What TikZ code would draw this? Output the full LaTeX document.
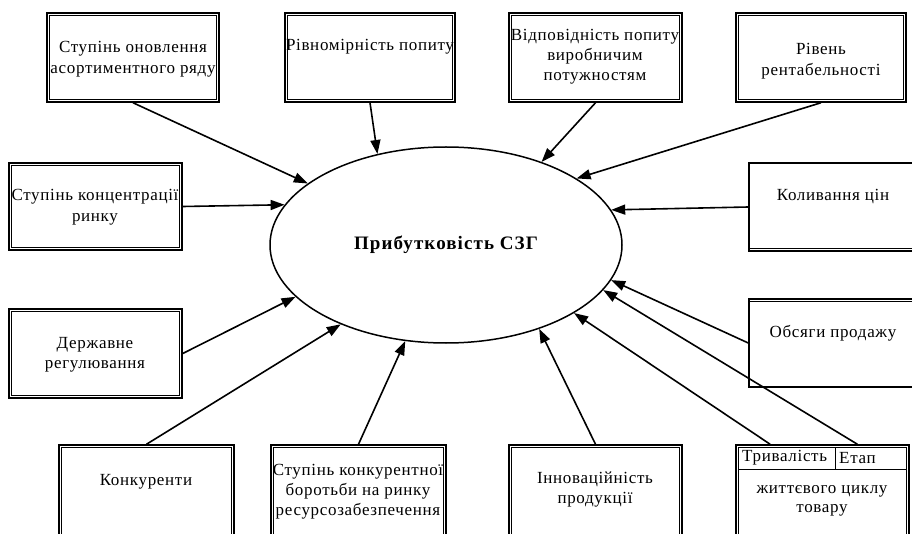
\documentclass[tikz,border=0pt]{standalone}
\usepackage{fontspec}
\setmainfont{Liberation Serif}[LetterSpace=4]
\newfontfamily\centrefont{Liberation Serif}[LetterSpace=5.7]
\usetikzlibrary{arrows.meta,shapes.geometric,calc}
\tikzset{
  framebox/.style={draw, line width=1.5pt, inner sep=0pt},
  innerframe/.style={draw, line width=0.8pt},
  txt/.style={align=center, inner sep=0pt, font=\fontsize{17}{21}\selectfont},
  cell/.style={anchor=west, inner sep=0pt, font=\fontsize{17}{21}\selectfont},
  arr/.style={line width=1.6pt, -{Triangle[length=14pt,width=10pt]}},
  rule/.style={line width=1pt}
}
\begin{document}
\begin{tikzpicture}[x=1pt,y=-1pt]
\useasboundingbox (0,0) rectangle (912,534);
\clip (0,0) rectangle (912,534);
\fill[white] (0,0) rectangle (912,534);
% centre
\node[draw, ellipse, line width=1.5pt, minimum width=352pt, minimum height=196pt, inner sep=0pt,
      font=\centrefont\bfseries\fontsize{19}{21}\selectfont] (E) at (446,245) {Прибутковість СЗГ};
% boxes
\node[framebox, minimum width=172pt, minimum height=89pt] (b1) at (133,57.5) {};
\node[framebox, minimum width=170pt, minimum height=89pt] (b2) at (370,57.5) {};
\node[framebox, minimum width=173pt, minimum height=89pt] (b3) at (595.5,57.5) {};
\node[framebox, minimum width=170pt, minimum height=89pt] (b4) at (821,57.5) {};
\node[framebox, minimum width=173pt, minimum height=87pt] (b5) at (95.5,206.5) {};
\node[framebox, minimum width=180pt, minimum height=88pt] (b6) at (839,207) {};
\node[framebox, minimum width=173pt, minimum height=89pt] (b7) at (95.5,353.5) {};
\node[framebox, minimum width=180pt, minimum height=88pt] (b8) at (839,343) {};
\node[framebox, minimum width=175pt, minimum height=100pt] (b9) at (146.5,495) {};
\node[framebox, minimum width=175pt, minimum height=100pt] (b10) at (358.5,495) {};
\node[framebox, minimum width=173pt, minimum height=100pt] (b11) at (595.5,495) {};
\node[framebox, minimum width=173pt, minimum height=100pt] (b12) at (822.5,495) {};
\foreach \n in {b1,b2,b3,b4,b5,b7,b9,b10,b11,b12}{
  \draw[innerframe] ($(\n.north west)+(3.4,3.4)$) rectangle ($(\n.south east)+(-3.4,-3.4)$);
}
\draw[innerframe] ($(b6.south west)+(0,-3.4)$) -- ($(b6.south east)+(0,-3.4)$);
\draw[innerframe] ($(b8.north west)+(0,3.4)$) -- ($(b8.north east)+(0,3.4)$);
\coordinate (h1) at ($(b12.north west)+(3.4,25)$);
\coordinate (h2) at ($(b12.north east)+(-3.4,25)$);
\coordinate (v1) at ($(b12.north west)+(100,3.4)$);
\coordinate (v2) at ($(b12.north west)+(100,25)$);
\draw[rule] (h1) -- (h2);
\draw[rule] (v1) -- (v2);
% texts
\node[txt] (t1) at (133,59) {Ступінь оновлення\\асортиментного ряду};
\node[txt] (t2) at (370,47) {Рівномірність попиту};
\node[txt, font=\fontsize{17}{20}\selectfont] (t3) at (595,57) {Відповідність попиту\\виробничим\\потужностям};
\node[txt] (t4) at (821,61) {Рівень\\рентабельності};
\node[txt] (t5) at (95,207) {Ступінь концентрації\\ринку};
\node[txt] (t6) at (833,197) {Коливання цін};
\node[txt, font=\fontsize{17}{20}\selectfont] (t7) at (95,355) {Державне\\регулювання};
\node[txt] (t8) at (833,333) {Обсяги продажу};
\node[txt] (t9) at (146,482) {Конкуренти};
\node[txt, font=\fontsize{17}{20}\selectfont] (t10) at (358,492) {Ступінь конкурентної\\боротьби на ринку\\ресурсозабезпечення};
\node[txt, font=\fontsize{17}{20}\selectfont] (t11) at (595,490) {Інноваційність\\продукції};
\node[cell] (t12a) at (742,458) {Тривалість};
\node[cell] (t12b) at (839,458) {Етап};
\node[txt, font=\fontsize{17}{19}\selectfont] (t12c) at (822,501) {життєвого циклу\\товару};
% arrows
\draw[arr] (b1.south) -- (E.156);
\draw[arr] (b2.south) -- (E.127.1);
\draw[arr] (b3.south) -- (E.41.7);
\draw[arr] (b4.south) -- (E.27.1);
\draw[arr] (b5.east) -- (E.166.9);
\draw[arr] (b6.west) -- (E.12.4);
\draw[arr] (b7.east) -- (E.199.1);
\draw[arr] (b8.west) -- (E.348.3);
\draw[arr] (b9.north) -- (E.217.6);
\draw[arr] (b10.north) -- (E.247.9);
\draw[arr] (b11.north) -- (E.318.2);
\draw[arr] ($(b12.north west)!0.2!(b12.north east)$) -- (E.332.6);
\draw[arr] ($(b12.north west)!0.7!(b12.north east)$) -- (E.344.5);
\end{tikzpicture}
\end{document}
